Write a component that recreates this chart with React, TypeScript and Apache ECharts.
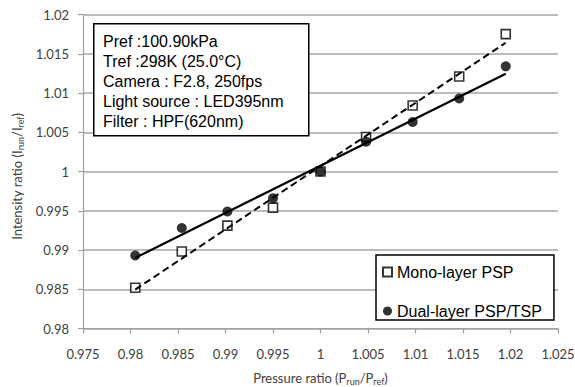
import React, { useEffect, useRef } from "react";
import * as echarts from "echarts";

// ---- data ----
const pressureRatio = [0.9805, 0.9854, 0.9902, 0.995, 1.0, 1.0048, 1.0097, 1.0146, 1.0195];
const monoLayer = [0.9852, 0.9898, 0.9931, 0.9954, 1.0, 1.0044, 1.0084, 1.0121, 1.0175];
const dualLayer = [0.9893, 0.9928, 0.9949, 0.9966, 1.0, 1.0038, 1.0063, 1.0093, 1.0134];
const seriesNames = ["Mono-layer PSP", "Dual-layer PSP/TSP"];
const infoLines = [
  "Pref :100.90kPa",
  "Tref :298K (25.0°C)",
  "Camera : F2.8, 250fps",
  "Light source : LED395nm",
  "Filter : HPF(620nm)",
];
const xRange = [0.975, 1.025];
const yRange = [0.98, 1.02];
const tickStep = 0.005;

// least-squares linear trend line over the data's x extent
function trend(xs: number[], ys: number[]): number[][] {
  const n = xs.length;
  const mx = xs.reduce((a, b) => a + b, 0) / n;
  const my = ys.reduce((a, b) => a + b, 0) / n;
  let sxy = 0;
  let sxx = 0;
  for (let i = 0; i < n; i++) {
    sxy += (xs[i] - mx) * (ys[i] - my);
    sxx += (xs[i] - mx) * (xs[i] - mx);
  }
  const b = sxy / sxx;
  const a = my - b * mx;
  const x0 = Math.min(...xs);
  const x1 = Math.max(...xs);
  return [
    [x0, a + b * x0],
    [x1, a + b * x1],
  ];
}

const AXIS_FONT = "Lato";
const BOX_FONT = "Liberation Sans";

export default function App() {
  const ref = useRef<HTMLDivElement>(null);

  useEffect(() => {
    if (!ref.current) return;
    const chart = echarts.init(ref.current, undefined, { renderer: "svg" });

    const monoPts = pressureRatio.map((x, i) => [x, monoLayer[i]]);
    const dualPts = pressureRatio.map((x, i) => [x, dualLayer[i]]);

    const nameRich = {
      s: {
        fontSize: 9,
        fontFamily: AXIS_FONT,
        color: "#404040",
        lineHeight: 16,
        verticalAlign: "bottom",
      },
    };

    chart.setOption({
      animation: false,
      backgroundColor: "#fff",
      grid: { left: 83, right: 17, top: 14.5, bottom: 58.5, outerBoundsMode: "none", containLabel: false },
      xAxis: {
        type: "value",
        min: xRange[0],
        max: xRange[1],
        interval: tickStep,
        name: "Pressure ratio (P{s|run}/P{s|ref})",
        nameLocation: "middle",
        nameGap: 41,
        nameTextStyle: {
          fontSize: 13,
          fontFamily: AXIS_FONT,
          color: "#404040",
          lineHeight: 16,
          verticalAlign: "top",
          rich: nameRich,
        },
        axisLine: { show: true, lineStyle: { color: "#a0a0a0", width: 1.2 } },
        axisTick: { show: true, inside: false, length: 5, lineStyle: { color: "#a0a0a0", width: 1.2 } },
        axisLabel: { margin: 19, fontSize: 13, fontFamily: AXIS_FONT, color: "#404040" },
        splitLine: { show: false },
      },
      yAxis: {
        type: "value",
        min: yRange[0],
        max: yRange[1],
        interval: tickStep,
        name: "Intensity ratio (I{s|run}/I{s|ref})",
        nameLocation: "middle",
        nameGap: 55,
        nameTextStyle: {
          fontSize: 13,
          fontFamily: AXIS_FONT,
          color: "#404040",
          lineHeight: 16,
          padding: [0, 10, 0, 0],
          rich: nameRich,
        },
        axisLine: { show: true, lineStyle: { color: "#a0a0a0", width: 1.2 } },
        axisTick: { show: true, inside: false, length: 5, lineStyle: { color: "#a0a0a0", width: 1.2 } },
        axisLabel: { margin: 14, fontSize: 13, fontFamily: AXIS_FONT, color: "#404040" },
        splitLine: { show: true, lineStyle: { color: "#a6a6a6", width: 1.5 } },
      },
      legend: {
        data: seriesNames,
        orient: "vertical",
        left: 376,
        top: 255,
        backgroundColor: "#fff",
        borderColor: "#000",
        borderWidth: 1.5,
        borderRadius: 0,
        padding: [9, 12, 1, 6],
        itemGap: 23,
        itemWidth: 9,
        itemHeight: 9,
        textStyle: { fontSize: 16, fontFamily: BOX_FONT, color: "#000", lineHeight: 16 },
      },
      graphic: [
        {
          type: "rect",
          z: 100,
          shape: { x: 93.75, y: 23.75, width: 215, height: 112 },
          style: { fill: "#fff", stroke: "#000", lineWidth: 1.5 },
        },
        {
          type: "text",
          z: 101,
          x: 103,
          y: 31,
          style: {
            text: infoLines.join("\n"),
            fontSize: 16,
            fontFamily: BOX_FONT,
            fill: "#000",
            lineHeight: 20,
            verticalAlign: "top",
          },
        },
      ],
      series: [
        {
          name: seriesNames[0],
          type: "scatter",
          data: monoPts,
          symbol: "rect",
          symbolSize: 9,
          itemStyle: { color: "#fff", borderColor: "#000", borderWidth: 1.6 },
          z: 2,
        },
        {
          name: seriesNames[1],
          type: "scatter",
          data: dualPts,
          symbol: "circle",
          symbolSize: 10,
          itemStyle: { color: "#000" },
          z: 3,
        },
        {
          name: "Mono trend",
          type: "line",
          data: trend(pressureRatio, monoLayer),
          symbol: "none",
          lineStyle: { color: "#000", width: 2, type: [7, 4] },
          z: 4,
        },
        {
          name: "Dual trend",
          type: "line",
          data: trend(pressureRatio, dualLayer),
          symbol: "none",
          lineStyle: { color: "#000", width: 2.2, type: "solid" },
          z: 4,
        },
      ],
    });

    return () => chart.dispose();
  }, []);

  return (
    <div
      ref={ref}
      style={{ position: "fixed", left: 0, top: 0, width: 575, height: 387 }}
    />
  );
}
